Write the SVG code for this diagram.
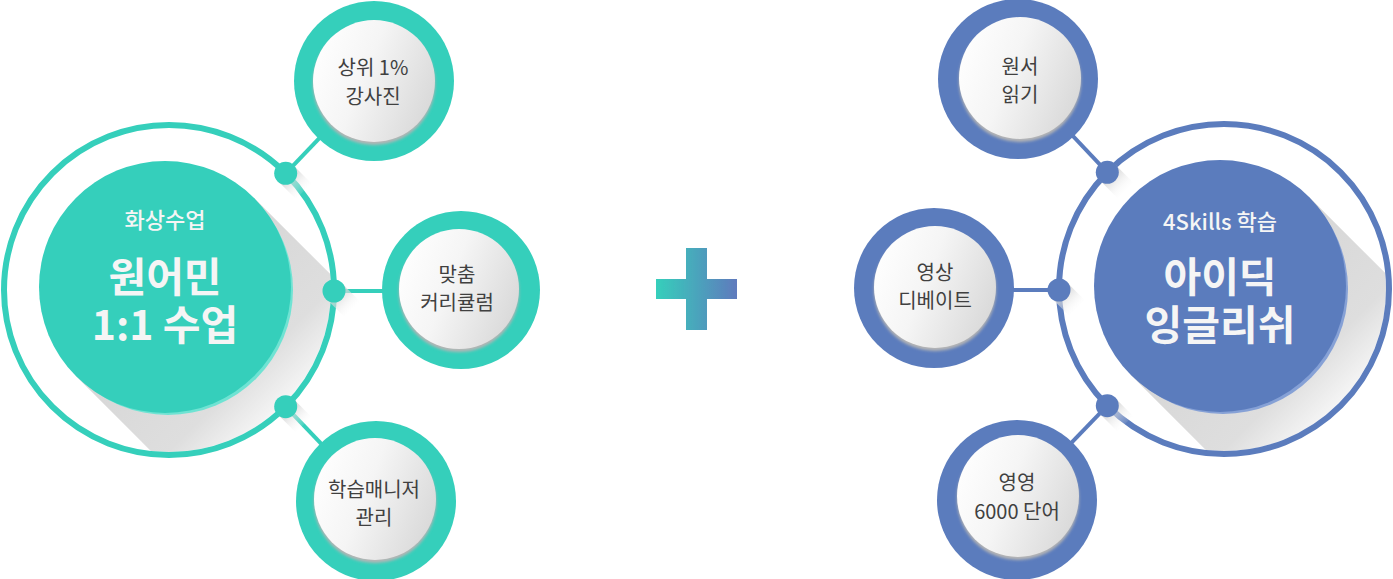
<svg xmlns="http://www.w3.org/2000/svg" width="1393" height="579" viewBox="0 0 1393 579">
<defs>
<style>
.ringT{fill:none;stroke:#35cfbb;stroke-width:6}
.ringB{fill:none;stroke:#5b7cbd;stroke-width:6}
.lineT{stroke:#35cfbb;stroke-width:4}
.lineB{stroke:#5b7cbd;stroke-width:4}
.fillT{fill:#35cfbb}
.fillB{fill:#5b7cbd}
.rimT{fill:#6fe3d3}
.rimB{fill:#86a1d6}
.face{fill:url(#faceGrad)}
.fshadow{fill:#b5b5b5;filter:url(#soft)}
.small{font-family:"Noto Sans CJK KR","Noto Sans",sans-serif;font-size:20px;fill:#404040;text-anchor:middle}
.sub{font-family:"Noto Sans CJK KR","Noto Sans",sans-serif;font-size:22px;font-weight:500;fill:#f5f5f5;text-anchor:middle}
.main{font-family:"Noto Sans CJK KR","Noto Sans",sans-serif;font-size:41px;font-weight:700;fill:#f5f5f5;text-anchor:middle}
</style>
<linearGradient id="faceGrad" x1="0" y1="0.2" x2="1" y2="0.6">
<stop offset="0" stop-color="#ffffff"/>
<stop offset="0.45" stop-color="#f5f5f5"/>
<stop offset="1" stop-color="#dadada"/>
</linearGradient>
<linearGradient id="plusGrad" gradientUnits="userSpaceOnUse" x1="656" y1="0" x2="737" y2="0">
<stop offset="0" stop-color="#35cfbb"/>
<stop offset="1" stop-color="#5f7abd"/>
</linearGradient>
<linearGradient id="bigShadowL" gradientUnits="userSpaceOnUse" x1="165" y1="287" x2="285" y2="407">
<stop offset="0" stop-color="#d6d6d6"/>
<stop offset="0.7" stop-color="#dedede"/>
<stop offset="1" stop-color="#f6f6f6"/>
</linearGradient>
<linearGradient id="bigShadowR" gradientUnits="userSpaceOnUse" x1="1220" y1="286" x2="1340" y2="406">
<stop offset="0" stop-color="#d6d6d6"/>
<stop offset="0.7" stop-color="#dedede"/>
<stop offset="1" stop-color="#f6f6f6"/>
</linearGradient>
<linearGradient id="dotShadowGrad" gradientUnits="userSpaceOnUse" x1="0" y1="0" x2="20" y2="20">
<stop offset="0" stop-color="#c8c8c8"/>
<stop offset="1" stop-color="#ffffff" stop-opacity="0"/>
</linearGradient>
<filter id="soft" x="-20%" y="-20%" width="140%" height="140%"><feGaussianBlur stdDeviation="1.5"/></filter>
<filter id="plusBlur" x="-10%" y="-10%" width="120%" height="120%"><feGaussianBlur stdDeviation="0.6"/></filter>
<clipPath id="clipL"><circle cx="169" cy="290" r="162"/></clipPath>
<clipPath id="clipR"><circle cx="1224" cy="289" r="162"/></clipPath>
<path id="dotShadow" d="M7.8 -7.8 L25.8 10.2 L10.2 25.8 L-7.8 7.8 Z" fill="url(#dotShadowGrad)"/>
</defs>

<rect width="1393" height="579" fill="#ffffff"/>

<g id="left-hub-back">
<path clip-path="url(#clipL)" d="M254.1 197.9 L554 498 L376 676 L75.9 376.1 Z" fill="url(#bigShadowL)"/>
<circle class="ringT" cx="169" cy="290" r="165"/>
</g>
<g id="right-hub-back">
<path clip-path="url(#clipR)" d="M1309.1 196.9 L1609 497 L1431 675 L1130.9 375.1 Z" fill="url(#bigShadowR)"/>
<circle class="ringB" cx="1224" cy="289" r="165"/>
</g>

<g id="connectors">
<line class="lineT" x1="285.7" y1="173.3" x2="374" y2="81"/>
<line class="lineT" x1="334" y1="291" x2="400" y2="291"/>
<line class="lineT" x1="285.7" y1="406.7" x2="375" y2="500"/>
<line class="lineB" x1="1107.3" y1="172.3" x2="1019" y2="79"/>
<line class="lineB" x1="1059" y1="290" x2="990" y2="290"/>
<line class="lineB" x1="1107.3" y1="405.7" x2="1017" y2="499"/>
<use href="#dotShadow" x="285.7" y="173.3"/>
<use href="#dotShadow" x="334" y="291"/>
<use href="#dotShadow" x="285.7" y="406.7"/>
<use href="#dotShadow" x="1107.3" y="172.3"/>
<use href="#dotShadow" x="1059" y="290"/>
<use href="#dotShadow" x="1107.3" y="405.7"/>
<circle class="fillT" cx="285.7" cy="173.3" r="11.5"/>
<circle class="fillT" cx="334" cy="291" r="11.5"/>
<circle class="fillT" cx="285.7" cy="406.7" r="11.5"/>
<circle class="fillB" cx="1107.3" cy="172.3" r="11.5"/>
<circle class="fillB" cx="1059" cy="290" r="11.5"/>
<circle class="fillB" cx="1107.3" cy="405.7" r="11.5"/>
</g>

<g id="left-hub">
<circle class="rimT" cx="168" cy="290" r="125"/>
<circle class="fillT" cx="165" cy="287" r="126"/>
<text class="sub" x="165" y="228">화상수업</text>
<text class="main" x="165" y="292">원어민<tspan x="165" dy="48">1:1 수업</tspan></text>
</g>

<g id="right-hub">
<circle class="rimB" cx="1223" cy="289" r="125"/>
<circle class="fillB" cx="1220" cy="286" r="126"/>
<text class="sub" x="1220" y="230">4Skills 학습</text>
<text class="main" x="1220" y="292">아이딕<tspan x="1220" dy="48">잉글리쉬</tspan></text>
</g>

<g id="node-teachers">
<circle class="fillT" cx="374" cy="81" r="80"/>
<circle class="fshadow" cx="374" cy="84" r="61"/>
<circle class="face" cx="374" cy="81" r="61"/>
<text class="small" x="373" y="75">상위 1%<tspan x="373" dy="29">강사진</tspan></text>
</g>
<g id="node-curriculum">
<circle class="fillT" cx="461" cy="290" r="79"/>
<circle class="fshadow" cx="459" cy="292" r="60"/>
<circle class="face" cx="459" cy="289" r="60"/>
<text class="small" x="457" y="282">맞춤<tspan x="457" dy="28">커리큘럼</tspan></text>
</g>
<g id="node-manager">
<circle class="fillT" cx="376" cy="501" r="80"/>
<circle class="fshadow" cx="375" cy="502" r="61"/>
<circle class="face" cx="375" cy="499" r="61"/>
<text class="small" x="374" y="497">학습매니저<tspan x="374" dy="28">관리</tspan></text>
</g>

<g id="node-reading">
<circle class="fillB" cx="1018" cy="79" r="80"/>
<circle class="fshadow" cx="1020" cy="81" r="61"/>
<circle class="face" cx="1020" cy="78" r="61"/>
<text class="small" x="1020" y="74">원서<tspan x="1020" dy="28">읽기</tspan></text>
</g>
<g id="node-debate">
<circle class="fillB" cx="934" cy="288" r="80"/>
<circle class="fshadow" cx="935" cy="290" r="61"/>
<circle class="face" cx="935" cy="287" r="61"/>
<text class="small" x="935" y="280">영상<tspan x="935" dy="27.5">디베이트</tspan></text>
</g>
<g id="node-words">
<circle class="fillB" cx="1017" cy="500" r="80"/>
<circle class="fshadow" cx="1018" cy="499" r="61"/>
<circle class="face" cx="1018" cy="496" r="61"/>
<text class="small" x="1017" y="490">영영<tspan x="1017" dy="29">6000 단어</tspan></text>
</g>

<g id="plus">
<path d="M686 248 H707 V279 H737 V299 H707 V330 H686 V299 H656 V279 H686 Z" fill="url(#plusGrad)" filter="url(#plusBlur)"/>
</g>
</svg>
